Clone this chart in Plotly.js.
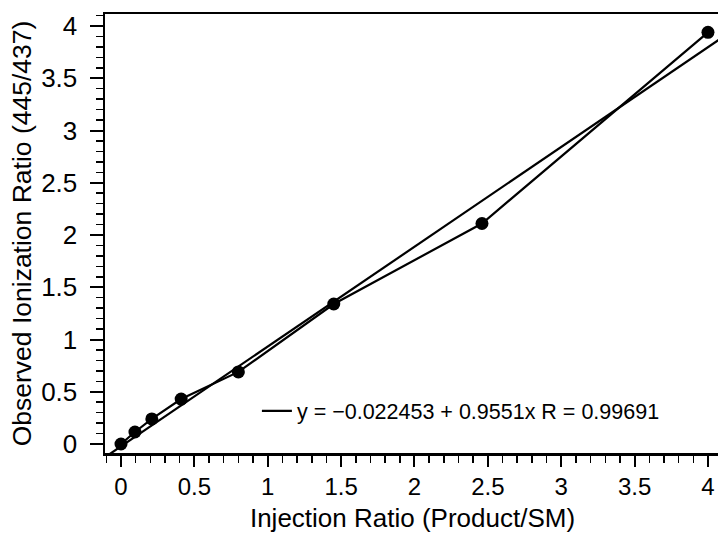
<!DOCTYPE html>
<html>
<head>
<meta charset="utf-8">
<script src="https://cdn.plot.ly/plotly-3.0.1.min.js"></script>
<style>
html,body{margin:0;padding:0;overflow:hidden;background:#fff;}
#chart{width:720px;height:533px;}
</style>
</head>
<body>
<div id="chart"></div>
<script>
// Data
const injectionRatio = [0, 0.095, 0.21, 0.41, 0.80, 1.45, 2.46, 4.0];
const observedRatio  = [0, 0.115, 0.24, 0.43, 0.69, 1.34, 2.11, 3.94];
const fitIntercept = -0.022453;
const fitSlope = 0.9551;
const fitR = 0.99691;
const xTickVals = [0, 0.5, 1, 1.5, 2, 2.5, 3, 3.5, 4];
const xTickText = ['0', '0.5', '1', '1.5', '2', '2.5', '3', '3.5', '4'];
const yTickVals = [0, 0.5, 1, 1.5, 2, 2.5, 3, 3.5, 4];
const yTickText = ['0', '0.5', '1', '1.5', '2', '2.5', '3', '3.5', '4'];

const xRange = [-0.109, 4.082];
const yRange = [-0.086, 4.115];

const fitX = [xRange[0], xRange[1]];
const fitY = fitX.map(x => fitIntercept + fitSlope * x);

const FONT = 'Liberation Sans, Arial, Helvetica, sans-serif';

const traces = [
  {
    x: injectionRatio, y: observedRatio,
    type: 'scatter', mode: 'lines+markers',
    line: {color: '#000', width: 2.2},
    marker: {color: '#000', size: 13, symbol: 'circle'},
    showlegend: false, hoverinfo: 'skip'
  },
  {
    x: fitX, y: fitY,
    type: 'scatter', mode: 'lines',
    line: {color: '#000', width: 2.2},
    name: 'y = \u22120.022453 + 0.9551x R = 0.99691',
    showlegend: true, hoverinfo: 'skip'
  }
];

const axisCommon = {
  showgrid: false, zeroline: false,
  showline: true, linecolor: '#000', linewidth: 2.5, mirror: true,
  ticks: 'outside', tickcolor: '#000', tickwidth: 2,
  tickmode: 'array',
  fixedrange: true
};

const layout = {
  width: 720, height: 533,
  margin: {l: 105, r: 0, t: 14, b: 80},
  paper_bgcolor: '#fff', plot_bgcolor: '#fff',
  font: {family: FONT, color: '#000'},
  xaxis: Object.assign({}, axisCommon, {
    range: xRange,
    tickvals: xTickVals, ticktext: xTickText,
    tickfont: {family: FONT, size: 24, color: '#000'},
    ticklen: 11,
    minor: {dtick: 0.1, tick0: 0, ticks: 'outside', ticklen: 7, tickwidth: 1.5, tickcolor: '#000'},
    title: {text: 'Injection Ratio (Product/SM)', font: {family: FONT, size: 26, color: '#000'}, standoff: 14}
  }),
  yaxis: Object.assign({}, axisCommon, {
    range: yRange,
    tickvals: yTickVals, ticktext: yTickText,
    tickfont: {family: FONT, size: 26, color: '#000'},
    ticklen: 13,
    ticklabelstandoff: 7,
    minor: {dtick: 0.1, tick0: 0, ticks: 'outside', ticklen: 7, tickwidth: 1.5, tickcolor: '#000'},
    title: {text: 'Observed Ionization Ratio (445/437)', font: {family: FONT, size: 26.5, color: '#000'}, standoff: 2}
  }),
  legend: {
    x: 0.247, y: 0.096, xanchor: 'left', yanchor: 'middle',
    bgcolor: 'rgba(0,0,0,0)', borderwidth: 0,
    font: {family: FONT, size: 21.5, color: '#000'}
  },
  showlegend: true
};

Plotly.newPlot('chart', traces, layout, {displayModeBar: false, staticPlot: true});
</script>
</body>
</html>
